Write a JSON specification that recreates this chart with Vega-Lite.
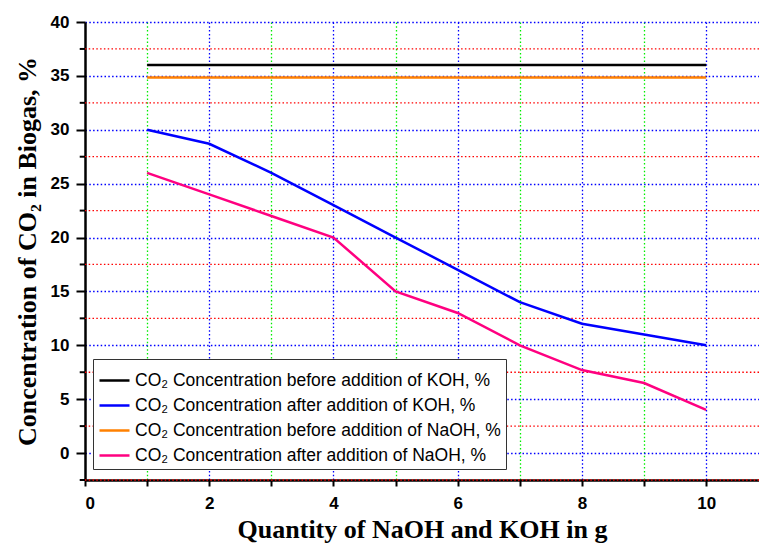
{
  "$schema": "https://vega.github.io/schema/vega-lite/v6.json",
  "width": 674,
  "height": 458,
  "autosize": {"type": "none"},
  "padding": {"left": 85, "top": 22, "right": 0, "bottom": 70},
  "background": "white",
  "config": {
    "view": {"stroke": null},
    "font": "Liberation Sans"
  },
  "datasets": {
    "lines": [
      {"x": 1, "s": "CO₂ Concentration before addition of KOH, %", "v": 36},
      {"x": 10, "s": "CO₂ Concentration before addition of KOH, %", "v": 36},
      {"x": 1, "s": "CO₂ Concentration after addition of KOH, %", "v": 30},
      {"x": 2, "s": "CO₂ Concentration after addition of KOH, %", "v": 28.7},
      {"x": 3, "s": "CO₂ Concentration after addition of KOH, %", "v": 26},
      {"x": 4, "s": "CO₂ Concentration after addition of KOH, %", "v": 23},
      {"x": 5, "s": "CO₂ Concentration after addition of KOH, %", "v": 20},
      {"x": 6, "s": "CO₂ Concentration after addition of KOH, %", "v": 17},
      {"x": 7, "s": "CO₂ Concentration after addition of KOH, %", "v": 14},
      {"x": 8, "s": "CO₂ Concentration after addition of KOH, %", "v": 12},
      {"x": 9, "s": "CO₂ Concentration after addition of KOH, %", "v": 11},
      {"x": 10, "s": "CO₂ Concentration after addition of KOH, %", "v": 10},
      {"x": 1, "s": "CO₂ Concentration before addition of NaOH, %", "v": 34.85},
      {"x": 10, "s": "CO₂ Concentration before addition of NaOH, %", "v": 34.85},
      {"x": 1, "s": "CO₂ Concentration after addition of NaOH, %", "v": 26},
      {"x": 2, "s": "CO₂ Concentration after addition of NaOH, %", "v": 24},
      {"x": 3, "s": "CO₂ Concentration after addition of NaOH, %", "v": 22},
      {"x": 4, "s": "CO₂ Concentration after addition of NaOH, %", "v": 20},
      {"x": 5, "s": "CO₂ Concentration after addition of NaOH, %", "v": 15},
      {"x": 6, "s": "CO₂ Concentration after addition of NaOH, %", "v": 13},
      {"x": 7, "s": "CO₂ Concentration after addition of NaOH, %", "v": 10},
      {"x": 8, "s": "CO₂ Concentration after addition of NaOH, %", "v": 7.7},
      {"x": 9, "s": "CO₂ Concentration after addition of NaOH, %", "v": 6.5},
      {"x": 10, "s": "CO₂ Concentration after addition of NaOH, %", "v": 4}
    ],
    "minor": [
      {"g": -2.5}, {"g": 2.5}, {"g": 7.5}, {"g": 12.5}, {"g": 17.5},
      {"g": 22.5}, {"g": 27.5}, {"g": 32.5}, {"g": 37.5}
    ]
  },
  "layer": [
    {
      "data": {"name": "minor"},
      "mark": {"type": "rule", "color": "#ff0000", "strokeWidth": 1.3, "strokeDash": [1.5, 2.3]},
      "encoding": {
        "y": {"field": "g", "type": "quantitative"}
      }
    },
    {
      "data": {"name": "minor"},
      "mark": {"type": "rule", "color": "black", "strokeWidth": 2, "clip": false},
      "encoding": {
        "y": {"field": "g", "type": "quantitative"},
        "x": {"datum": -0.085},
        "x2": {"datum": 0}
      }
    },
    {
      "data": {"name": "lines"},
      "mark": {"type": "line", "strokeWidth": 2.5, "clip": true},
      "encoding": {
        "x": {
          "field": "x", "type": "quantitative",
          "scale": {"domain": [0, 10.85], "nice": false, "zero": false},
          "axis": {
            "values": [0, 1, 2, 3, 4, 5, 6, 7, 8, 9, 10],
            "format": "d",
            "labelExpr": "datum.value % 2 === 0 ? datum.label : ''",
            "labelFont": "Liberation Sans", "labelFontWeight": "bold", "labelFontSize": 17, "labelColor": "black",
            "labelPadding": 9,
            "domainColor": "black", "domainWidth": 2.5,
            "tickColor": "black", "tickWidth": 2, "tickSize": 6,
            "grid": true,
            "gridDash": [1.5, 2.3],
            "gridWidth": 1.3,
            "gridColor": {"condition": {"test": "datum.value % 2 === 1", "value": "#00ee00"}, "value": "#0000ff"},
            "gridOpacity": {"condition": {"test": "datum.value === 0", "value": 0}, "value": 1},
            "title": "Quantity of NaOH and KOH in g",
            "titleFont": "Liberation Serif", "titleFontWeight": "bold", "titleFontSize": 26, "titleColor": "black",
            "titlePadding": 5
          }
        },
        "y": {
          "field": "v", "type": "quantitative",
          "scale": {"domain": [-2.5, 40], "nice": false, "zero": false},
          "axis": {
            "values": [0, 5, 10, 15, 20, 25, 30, 35, 40],
            "format": "d",
            "labelFont": "Liberation Sans", "labelFontWeight": "bold", "labelFontSize": 17, "labelColor": "black",
            "labelPadding": 7,
            "domainColor": "black", "domainWidth": 2.5,
            "tickColor": "black", "tickWidth": 2,
            "tickSize": 9,
            "grid": true,
            "gridDash": [1.5, 2.3],
            "gridWidth": 1.3,
            "gridColor": "#0000ff",
            "title": "Concentration of  CO₂ in Biogas, %",
            "titleFont": "Liberation Serif", "titleFontWeight": "bold", "titleFontSize": 26, "titleColor": "black",
            "titlePadding": 10
          }
        },
        "color": {
          "field": "s", "type": "nominal",
          "scale": {
            "domain": ["CO₂ Concentration before addition of KOH, %", "CO₂ Concentration after addition of KOH, %", "CO₂ Concentration before addition of NaOH, %", "CO₂ Concentration after addition of NaOH, %"],
            "range": ["#000000", "#0000ff", "#ff8000", "#ff0080"]
          },
          "legend": {
            "title": null,
            "orient": "none", "legendX": 8, "legendY": 337,
            "fillColor": "white", "strokeColor": "#333333",
            "padding": 5,
            "symbolType": "stroke", "symbolSize": 900, "symbolStrokeWidth": 2.5,
            "labelFont": "Liberation Sans", "labelFontSize": 17.5, "labelColor": "black",
            "rowPadding": 0, "labelLimit": 500
          }
        }
      }
    },
    {
      "mark": {"type": "rule", "color": "black", "strokeWidth": 2.5},
      "encoding": {"y": {"datum": 40}}
    }
  ]
}
